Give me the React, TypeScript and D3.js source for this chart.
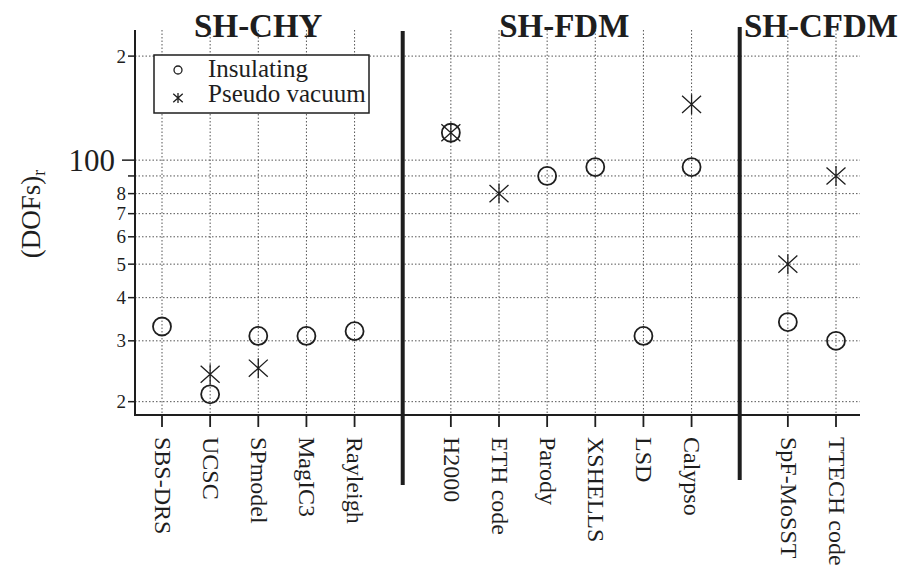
import * as d3 from 'd3';

const categories = [
  'SBS-DRS', 'UCSC', 'SPmodel', 'MagIC3', 'Rayleigh',
  'H2000', 'ETH code', 'Parody', 'XSHELLS', 'LSD', 'Calypso',
  'SpF-MoSST', 'TTECH code'
];
const groupNames = ['SH-CHY', 'SH-FDM', 'SH-CFDM'];
const groupSizes = [5, 6, 2];

const insulating = [33, 21, 31, 31, 32, 120, null, 90, 95.5, 31, 95.5, 34, 30];
const pseudoVacuum = [null, 24, 25, null, null, 120, 80, null, null, null, 145, 50, 90];

const yTicks = [20, 30, 40, 50, 60, 70, 80, 90, 100, 200];
const yTickLabels = ['2', '3', '4', '5', '6', '7', '8', '', '100', '2'];

const W = 907;
const H = 565;
const left = 135;
const right = 860;
const top = 30;
const bottom = 415;
const ink = '#1e1e1e';
const serif = '"Liberation Serif", "Times New Roman", serif';

// slot index for each category, leaving one empty slot where each divider sits
const slots: number[] = [];
const dividerSlots: number[] = [];
{
  let s = 0;
  groupSizes.forEach((n, gi) => {
    for (let i = 0; i < n; i++) slots.push(s++);
    if (gi < groupSizes.length - 1) dividerSlots.push(s++);
  });
}

const x = d3.scaleLinear().domain([0, d3.max(slots) as number]).range([162, 836]);
const y = d3.scaleLog().domain([18.3, 238]).range([bottom, top]);

const titleShift = [0, -7, 9];

function Star({ cx, cy, r }: { cx: number; cy: number; r: number }) {
  const a = r * 0.95;
  const d = `M${cx},${cy - r}L${cx},${cy + r}` +
    `M${cx - a},${cy - a * 0.9}L${cx + a},${cy + a * 0.9}` +
    `M${cx - a},${cy + a * 0.9}L${cx + a},${cy - a * 0.9}`;
  return <path d={d} stroke={ink} strokeWidth={1.3} fill="none" />;
}

export default function App() {
  let start = 0;
  const groups = groupSizes.map((n, gi) => {
    const xs = slots.slice(start, start + n).map(s => x(s));
    start += n;
    return { name: groupNames[gi], cx: d3.mean(xs) as number + titleShift[gi] };
  });

  return (
    <svg width={W} height={H} style={{ position: 'absolute', left: 0, top: 0, background: '#fff' }}
      fontFamily={serif}>
      <rect width={W} height={H} fill="#fff" />

      {/* grid */}
      {yTicks.map(t => (
        <line key={'h' + t} x1={left} x2={right} y1={y(t)} y2={y(t)}
          stroke="#555" strokeWidth={1} strokeDasharray="1.5,2" />
      ))}
      {slots.map(s => (
        <line key={'v' + s} x1={x(s)} x2={x(s)} y1={top} y2={bottom}
          stroke="#555" strokeWidth={1} strokeDasharray="1.5,2" />
      ))}

      {/* axes */}
      <line x1={left} x2={left} y1={top} y2={bottom + 1} stroke={ink} strokeWidth={2} />
      <line x1={left - 1} x2={right} y1={bottom} y2={bottom} stroke={ink} strokeWidth={2} />
      {yTicks.map((t, i) => (
        <g key={'yt' + t}>
          <line x1={t === 100 ? left - 13 : left - 7} x2={left} y1={y(t)} y2={y(t)}
            stroke={ink} strokeWidth={1.5} />
          <text x={t === 100 ? left - 20 : left - 9} y={y(t)} dy="0.34em" textAnchor="end"
            fontSize={t === 100 ? 31 : 19} fill={ink}>{yTickLabels[i]}</text>
        </g>
      ))}
      {slots.map((s, i) => (
        <g key={'xt' + s}>
          <line x1={x(s)} x2={x(s)} y1={bottom} y2={bottom + 12} stroke={ink} strokeWidth={1.8} />
          <text transform={`translate(${x(s)},${bottom + 22}) rotate(90)`} dy="0.3em"
            fontSize={24} fill={ink}>{categories[i]}</text>
        </g>
      ))}

      {/* y title */}
      <text transform={`translate(40,214) rotate(-90)`} textAnchor="middle" fontSize={27} fill={ink}>
        (DOFs)<tspan fontSize={18} dy="0.3em">r</tspan>
      </text>

      {/* dividers */}
      {dividerSlots.map((s, i) => (
        <line key={'d' + s} x1={x(s)} x2={x(s)} y1={i === 0 ? 31 : 27} y2={i === 0 ? 485 : 480}
          stroke={ink} strokeWidth={4} />
      ))}

      {/* group titles */}
      {groups.map(g => (
        <text key={g.name} x={g.cx} y={37} textAnchor="middle" fontSize={33} fontWeight="bold" fill={ink}>
          {g.name}
        </text>
      ))}

      {/* points */}
      {insulating.map((v, i) => v == null ? null : (
        <circle key={'c' + i} cx={x(slots[i])} cy={y(v)} r={9} fill="none" stroke={ink} strokeWidth={1.8} />
      ))}
      {pseudoVacuum.map((v, i) => v == null ? null : (
        <Star key={'s' + i} cx={x(slots[i])} cy={y(v)} r={10} />
      ))}

      {/* legend */}
      <rect x={154} y={55} width={215} height={58} fill="#fff" stroke={ink} strokeWidth={1.5} />
      <circle cx={178} cy={70} r={4} fill="none" stroke={ink} strokeWidth={1.3} />
      <text x={208} y={77} fontSize={25} fill={ink}>Insulating</text>
      <Star cx={178} cy={98} r={5} />
      <text x={208} y={102} fontSize={25} fill={ink}>Pseudo vacuum</text>
    </svg>
  );
}
